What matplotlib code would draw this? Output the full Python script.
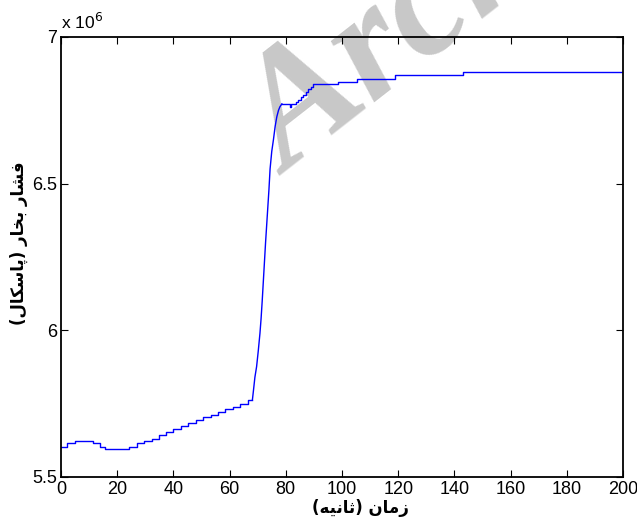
import numpy as np
import matplotlib
matplotlib.use("Agg")
import matplotlib.pyplot as plt
from matplotlib.ticker import FuncFormatter

# ---- data: steam pressure (x 1e6 Pa) versus time (s) ----
# stair-stepped samples before the pressure jump
t_pre = [0, 2.0, 5.0, 11.5, 13.9, 15.7, 24.3, 26.9, 29.5, 32.3, 34.9, 37.4,
         39.9, 42.6, 45.2, 48.0, 50.4, 53.3, 55.8, 58.4, 61.1, 63.7, 66.4, 68.1]
p_pre = [5.603, 5.615, 5.624, 5.617, 5.603, 5.594, 5.602, 5.615, 5.623, 5.631,
         5.643, 5.652, 5.664, 5.674, 5.683, 5.694, 5.703, 5.712, 5.721, 5.731,
         5.740, 5.749, 5.762, 5.762]
# steep rise
t_rise = [68.1, 68.5, 69.0, 69.6, 70.2, 70.8, 71.2, 71.6, 72.2, 72.8, 73.4,
          74.0, 74.4, 75.0, 75.6, 76.2, 76.8, 77.4, 77.9, 78.6]
p_rise = [5.762, 5.796, 5.840, 5.876, 5.930, 5.990, 6.040, 6.100, 6.200, 6.300,
          6.390, 6.480, 6.550, 6.610, 6.650, 6.695, 6.728, 6.750, 6.762, 6.772]
# stair-stepped samples after the jump
t_post = [78.6, 81.4, 81.9, 83.6, 84.5, 85.3, 86.2, 87.2, 88.0, 88.9, 89.8,
          98.7, 105.4, 118.9, 143.2, 200.0]
p_post = [6.772, 6.760, 6.771, 6.777, 6.785, 6.794, 6.802, 6.814, 6.822, 6.831,
          6.838, 6.847, 6.857, 6.870, 6.879, 6.879]

x_ticks = [0, 20, 40, 60, 80, 100, 120, 140, 160, 180, 200]
y_ticks = [5.5e6, 6.0e6, 6.5e6, 7.0e6]

xlabel_text = "زمان (ثانیه)"
ylabel_text = "فشار بخار (پاسکال)"
watermark_text = "Archive"

# ---- minimal Persian shaping (matplotlib has no complex text layout) ----
FORMS = {  # isolated, final, initial, medial
    "ا": ("\uFE8D", "\uFE8E", None, None),
    "ب": ("\uFE8F", "\uFE90", "\uFE91", "\uFE92"),
    "پ": ("\uFB56", "\uFB57", "\uFB58", "\uFB59"),
    "ث": ("\uFE99", "\uFE9A", "\uFE9B", "\uFE9C"),
    "خ": ("\uFEA5", "\uFEA6", "\uFEA7", "\uFEA8"),
    "ر": ("\uFEAD", "\uFEAE", None, None),
    "ز": ("\uFEAF", "\uFEB0", None, None),
    "س": ("\uFEB1", "\uFEB2", "\uFEB3", "\uFEB4"),
    "ش": ("\uFEB5", "\uFEB6", "\uFEB7", "\uFEB8"),
    "ف": ("\uFED1", "\uFED2", "\uFED3", "\uFED4"),
    "ک": ("\uFB8E", "\uFB8F", "\uFB90", "\uFB91"),
    "ل": ("\uFEDD", "\uFEDE", "\uFEDF", "\uFEE0"),
    "م": ("\uFEE1", "\uFEE2", "\uFEE3", "\uFEE4"),
    "ن": ("\uFEE5", "\uFEE6", "\uFEE7", "\uFEE8"),
    "ه": ("\uFEE9", "\uFEEA", "\uFEEB", "\uFEEC"),
    "ی": ("\uFBFC", "\uFBFD", "\uFBFE", "\uFBFF"),
}


def dual(ch):
    return ch in FORMS and FORMS[ch][2] is not None


def shape_rtl(text):
    out = []
    for i, ch in enumerate(text):
        if ch not in FORMS:
            out.append(ch)
            continue
        prev_join = i > 0 and dual(text[i - 1])
        next_join = dual(ch) and i + 1 < len(text) and text[i + 1] in FORMS
        iso, fin, ini, med = FORMS[ch]
        if prev_join and next_join:
            out.append(med)
        elif prev_join:
            out.append(fin)
        elif next_join:
            out.append(ini)
        else:
            out.append(iso)
    mirror = {"(": ")", ")": "("}
    return "".join(mirror.get(c, c) for c in reversed(out))


# ---- figure ----
fig = plt.figure(figsize=(6.37, 5.32), dpi=100)
fig.patch.set_facecolor("white")
ax = fig.add_axes([0.0958, 0.1034, 0.8822, 0.8271])
ax.patch.set_visible(False)

tick_family = ["Liberation Sans Narrow", "Liberation Sans"]

ax.step(t_pre, np.array(p_pre) * 1e6, where="post", color="#0000ff", lw=1.0)
ax.plot(t_rise, np.array(p_rise) * 1e6, color="#0000ff", lw=1.0)
ax.step(t_post, np.array(p_post) * 1e6, where="post", color="#0000ff", lw=1.0)

ax.set_xlim(0, 200)
ax.set_ylim(5.5e6, 7.0e6)
ax.set_xticks(x_ticks)
ax.set_yticks(y_ticks)
ax.yaxis.set_major_formatter(FuncFormatter(lambda v, _: f"{v / 1e6:g}"))
ax.tick_params(direction="in", length=5, width=0.8, top=True, right=True,
               colors="black", pad=3)
for lab in ax.get_xticklabels() + ax.get_yticklabels():
    lab.set_fontfamily(tick_family)
    lab.set_fontsize(13)
for sp in ax.spines.values():
    sp.set_linewidth(1.3)

ax.text(0.0, 1.012, r"x 10$^{6}$", transform=ax.transAxes, ha="left",
        va="bottom", fontfamily=tick_family, fontsize=12.5)

ax.set_xlabel(shape_rtl(xlabel_text), fontfamily="DejaVu Sans",
              fontweight="bold", fontsize=12)
ax.xaxis.set_label_coords(0.532, -0.050)
ax.set_ylabel(shape_rtl(ylabel_text), fontfamily="DejaVu Sans",
              fontweight="bold", fontsize=12)
ax.yaxis.set_label_coords(-0.058, 0.532)

# faint diagonal watermark behind the axes
fig.text(0.452, 0.668, watermark_text, rotation=38, rotation_mode="anchor",
         ha="left", va="baseline", color="#c8c8c8", fontsize=118,
         fontfamily="Liberation Serif", fontweight="bold", fontstyle="italic",
         zorder=-1)

fig.savefig("out.png", dpi=100, facecolor="white")
